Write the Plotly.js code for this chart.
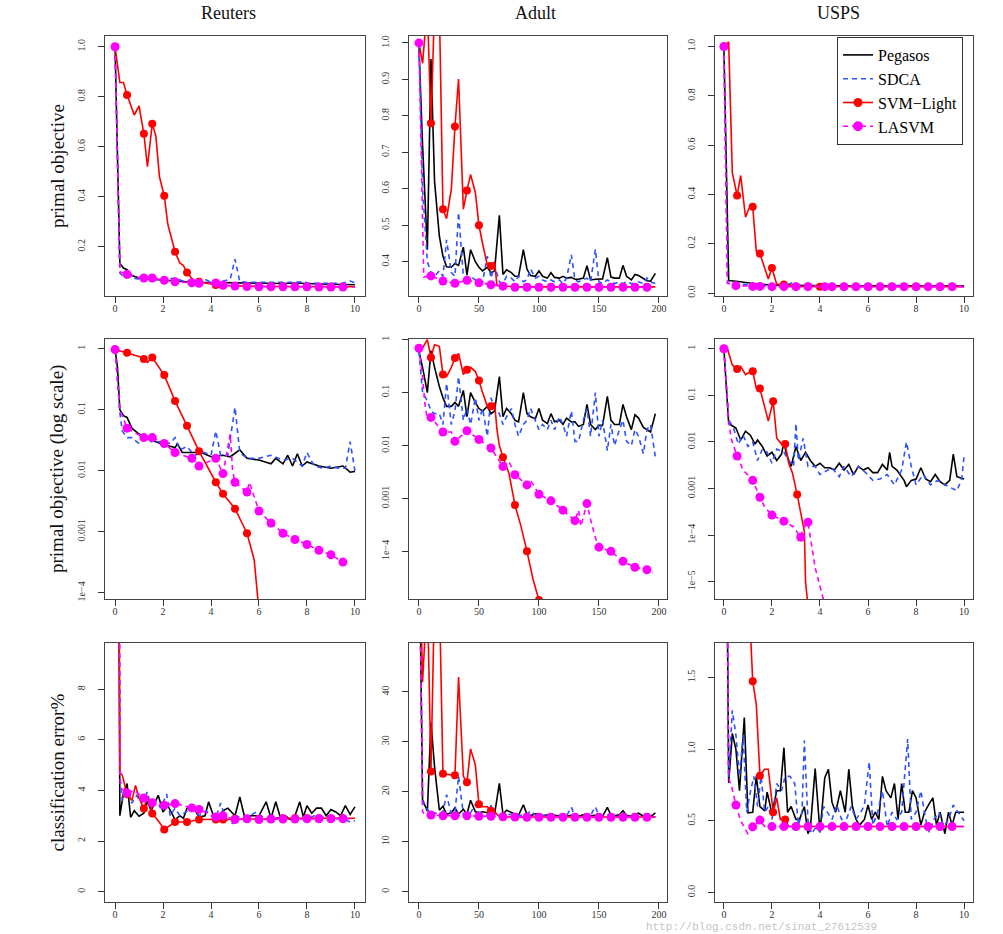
<!DOCTYPE html>
<html><head><meta charset="utf-8">
<script src="https://cdn.plot.ly/plotly-3.0.1.min.js"></script>
<style>html,body{margin:0;padding:0;background:#fff}#chart{width:1003px;height:934px}</style>
</head><body><div id="chart"></div>
<script>
// ---------------- DATA ----------------
const seriesNames = ['Pegasos', 'SDCA', 'SVM\u2212Light', 'LASVM'];
const datasetNames = ['Reuters', 'Adult', 'USPS'];
const rowTitles = ['primal objective', 'primal objective (log scale)', 'classification error%'];

// shared sampling grid for Adult (Pegasos / SDCA)
const adultX = [0,3,7,10,13,17,20,23,27,30, 33,37,40,43,47,50,53,57,60,63, 67,70,73,77,80,83,87,90,93,97, 100,103,107,110,113,117,120,123,127,130, 133,137,140,143,147,150,153,157,160,163, 167,170,173,177,180,183,187,190,193,197];

// ---- Reuters, primal objective ----
const rObjPegX = [0,0.2,0.35,0.5,0.7,1.0,1.5,2.0,2.5,3.0,3.5,4.0,4.5,5.0,5.5,6.0,6.5,7.0,7.5,8.0,8.5,9.0,9.5,10];
const rObjPegY = [1.0,0.133,0.115,0.108,0.085,0.075,0.07,0.066,0.062,0.06,0.058,0.057,0.056,0.055,0.054,0.054,0.053,0.053,0.055,0.052,0.051,0.05,0.049,0.048];
const rObjSdcaX = [0,0.2,0.4,0.6,1.0,1.5,2.0,2.3,2.5,2.8,3.0,3.5,3.8,4.0,4.3,4.8,5.0,5.2,5.5,6.0,6.5,7.0,7.5,7.9,8.0,8.5,9.0,9.5,9.8,10];
const rObjSdcaY = [1.0,0.095,0.075,0.078,0.07,0.07,0.068,0.072,0.075,0.064,0.062,0.06,0.068,0.058,0.058,0.07,0.15,0.06,0.058,0.058,0.057,0.056,0.058,0.06,0.055,0.054,0.055,0.054,0.063,0.056];
const rObjSvmX = [0,0.2,0.35,0.5,0.8,1.0,1.2,1.35,1.55,1.7,1.85,2.05,2.2,2.5,2.7,2.85,3.0,3.3,3.5,4.2,4.5,5.0,5.5,6.0,6.5,7.0,7.5,8.0,8.5,9.0,9.5,10];
const rObjSvmY = [1.0,0.857,0.857,0.807,0.727,0.763,0.652,0.52,0.692,0.643,0.48,0.404,0.29,0.18,0.135,0.125,0.097,0.062,0.06,0.047,0.045,0.043,0.042,0.041,0.041,0.041,0.04,0.04,0.04,0.04,0.04,0.04];
const rObjSvmMk = [0,0.5,1.2,1.55,2.05,2.5,3.0,3.5,4.2,4.5,5.0,5.5,6.0,6.5,7.0,7.5,8.0,8.5,9.0,9.5];
const rObjLasX = [0,0.2,0.5,0.8,1.2,1.55,2.05,2.5,3.2,3.5,4.2,4.5,5.0,5.5,6.0,6.5,7.0,7.5,8.0,8.5,9.0,9.5,10];
const rObjLasY = [1.0,0.1,0.09,0.08,0.075,0.075,0.066,0.06,0.056,0.054,0.055,0.047,0.043,0.041,0.04,0.04,0.04,0.04,0.04,0.039,0.039,0.039,0.039];
const rObjLasMk = [0,0.5,1.2,1.55,2.05,2.5,3.2,3.5,4.2,4.5,5.0,5.5,6.0,6.5,7.0,7.5,8.0,8.5,9.0,9.5];

// ---- Adult, primal objective ----
const aObjPegY = [0.99,0.72,0.433,0.956,0.62,0.47,0.415,0.386,0.385,0.395, 0.39,0.44,0.363,0.433,0.40,0.385,0.375,0.385,0.37,0.375, 0.527,0.365,0.378,0.37,0.36,0.36,0.433,0.38,0.362,0.36, 0.375,0.36,0.355,0.37,0.357,0.355,0.36,0.355,0.357,0.352, 0.352,0.355,0.389,0.35,0.352,0.352,0.353,0.411,0.358,0.355, 0.355,0.39,0.36,0.35,0.365,0.362,0.355,0.348,0.347,0.368];
const aObjSdcaY = [0.99,0.6,0.40,0.37,0.36,0.375,0.36,0.46,0.37,0.36, 0.535,0.36,0.355,0.36,0.35,0.34,0.345,0.415,0.355,0.39, 0.345,0.34,0.36,0.355,0.345,0.36,0.345,0.35,0.38,0.355, 0.36,0.35,0.345,0.35,0.345,0.35,0.34,0.355,0.419,0.35, 0.345,0.35,0.355,0.345,0.434,0.345,0.34,0.35,0.345,0.34, 0.345,0.34,0.345,0.34,0.34,0.345,0.34,0.355,0.345,0.34];
const aObjSvmX = [0,3,7,10,13,17,20,23,27,30,33,37,40,43,47,50,53,57,60,63,65,70,80,90,100,110,120,130,140,150,160,170,180,190,197];
const aObjSvmY = [1.0,0.944,1.1,0.78,1.1,1.1,0.544,0.518,0.6,0.771,0.901,0.544,0.595,0.639,0.59,0.5,0.45,0.39,0.388,0.40,0.335,0.333,0.331,0.331,0.331,0.331,0.331,0.331,0.331,0.331,0.331,0.331,0.331,0.331,0.331];
const aObjSvmMk = [10,20,30,40,50,60,70,80,90,100,110,120,130,140,150,160,170,180,190];
const aObjLasX = [0,4,10,20,30,40,50,60,70,80,90,100,110,120,130,140,150,160,170,180,190,197];
const aObjLasY = [1.0,0.358,0.361,0.347,0.341,0.349,0.342,0.337,0.333,0.330,0.330,0.330,0.330,0.330,0.330,0.330,0.330,0.330,0.330,0.330,0.330,0.330];
const aObjLasMk = [0,10,20,30,40,50,60,70,80,90,100,110,120,130,140,150,160,170,180,190];

// ---- USPS, primal objective ----
const uObjPegX = [0,0.2,0.5,0.8,1.0,1.3,1.6,2.0,2.5,3.0,4.0,5.0,6.0,7.0,8.0,9.0,10];
const uObjPegY = [1.0,0.051,0.048,0.043,0.042,0.038,0.035,0.032,0.031,0.03,0.03,0.029,0.029,0.03,0.029,0.029,0.029];
const uObjSdcaX = [0,0.15,0.4,0.7,1.0,1.5,2.0,2.5,2.9,3.0,3.5,4.0,5.0,6.0,7.0,7.5,8.0,9.0,10];
const uObjSdcaY = [1.0,0.04,0.038,0.035,0.034,0.032,0.03,0.03,0.043,0.032,0.03,0.029,0.029,0.028,0.029,0.033,0.029,0.028,0.029];
const uObjSvmX = [0,0.2,0.35,0.55,0.7,0.9,1.05,1.2,1.35,1.5,1.85,2.0,2.2,2.5,3.0,3.5,4.0,4.5,5.0,5.5,6.0,6.5,7.0,7.5,8.0,8.5,9.0,9.5,10];
const uObjSvmY = [1.0,1.019,0.488,0.396,0.477,0.308,0.345,0.35,0.169,0.16,0.057,0.102,0.035,0.035,0.027,0.027,0.026,0.026,0.026,0.026,0.026,0.026,0.026,0.026,0.026,0.026,0.026,0.026,0.026];
const uObjSvmMk = [0,0.55,1.2,1.5,2.0,2.5,3.0,3.5,4.0,4.5,5.0,5.5,6.0,6.5,7.0,7.5,8.0,8.5,9.0,9.5];
const uObjLasX = [0,0.15,0.5,1.2,1.5,2.0,2.5,3.0,3.5,4.2,4.5,5.0,5.5,6.0,6.5,7.0,7.5,8.0,8.5,9.0,9.5,10];
const uObjLasY = [1.0,0.04,0.03,0.027,0.027,0.026,0.026,0.026,0.026,0.026,0.026,0.026,0.026,0.026,0.026,0.026,0.026,0.026,0.026,0.026,0.026,0.026];
const uObjLasMk = [0,0.5,1.2,1.5,2.0,2.5,3.0,3.5,4.2,4.5,5.0,5.5,6.0,6.5,7.0,7.5,8.0,8.5,9.0,9.5];

// ---- Reuters, primal objective (log) ----
const rLogPegX = [0,0.1,0.2,0.35,0.5,0.7,1.0,1.5,2.0,2.5,2.6,2.8,3.2,3.6,4.0,4.5,4.8,5.2,5.5,6.0,6.5,6.7,7.0,7.2,7.4,7.6,7.8,8.0,8.5,9.0,9.5,9.8,10];
const rLogPegY = [0.97,0.5,0.1,0.08,0.075,0.05,0.04,0.032,0.027,0.024,0.028,0.02,0.02,0.02,0.017,0.018,0.017,0.022,0.016,0.015,0.013,0.016,0.013,0.018,0.012,0.019,0.012,0.014,0.012,0.011,0.012,0.0095,0.0098];
const rLogSdcaX = [0,0.2,0.3,0.5,0.7,1.0,1.3,1.5,2.0,2.3,2.5,2.7,3.0,3.3,3.7,4.0,4.2,4.4,4.7,5.0,5.2,5.5,6.0,6.5,7.0,7.4,7.8,8.0,8.3,8.7,9.0,9.3,9.6,9.8,10];
const rLogSdcaY = [0.97,0.09,0.045,0.035,0.035,0.028,0.036,0.03,0.03,0.028,0.035,0.022,0.025,0.018,0.02,0.018,0.045,0.018,0.018,0.11,0.02,0.016,0.016,0.018,0.015,0.016,0.012,0.02,0.012,0.011,0.012,0.011,0.011,0.03,0.01];
const rLogSvmX = [0,0.5,1.0,1.2,1.35,1.55,2.05,2.5,3.0,3.5,4.2,4.5,5.0,5.5,5.8,6.0];
const rLogSvmY = [0.97,0.86,0.75,0.68,0.6,0.72,0.37,0.14,0.055,0.021,0.0065,0.0042,0.0024,0.00095,0.00035,0.00005];
const rLogSvmMk = [0,0.5,1.2,1.55,2.05,2.5,3.0,3.5,4.2,4.5,5.0,5.5];
const rLogLasX = [0,0.2,0.5,1.2,1.55,2.05,2.5,3.2,3.5,4.2,4.5,4.8,4.9,5.0,5.5,5.6,6.0,6.5,7.0,7.5,8.0,8.5,9.0,9.5,9.8];
const rLogLasY = [0.97,0.1,0.05,0.035,0.035,0.028,0.02,0.016,0.012,0.016,0.009,0.04,0.01,0.0065,0.0045,0.0065,0.0022,0.0014,0.00095,0.00075,0.00062,0.0005,0.00042,0.00032,0.0003];
const rLogLasMk = [0,0.5,1.2,1.55,2.05,2.5,3.2,3.5,4.2,4.5,5.0,5.5,6.0,6.5,7.0,7.5,8.0,8.5,9.0,9.5];

// ---- Adult, primal objective (log) ----
const aLogPegY = [0.6,0.3,0.1,0.62,0.3,0.13,0.08,0.055,0.055,0.065, 0.055,0.11,0.035,0.1,0.065,0.05,0.045,0.055,0.04,0.045, 0.2,0.035,0.05,0.04,0.03,0.028,0.1,0.04,0.035,0.032, 0.05,0.03,0.026,0.04,0.028,0.03,0.025,0.033,0.028,0.028, 0.023,0.025,0.06,0.025,0.02,0.024,0.024,0.085,0.03,0.025, 0.025,0.06,0.035,0.02,0.038,0.033,0.022,0.02,0.018,0.04];
const aLogSdcaY = [0.6,0.1,0.07,0.045,0.04,0.04,0.025,0.15,0.025,0.045, 0.2,0.03,0.05,0.025,0.08,0.03,0.05,0.015,0.08,0.05, 0.04,0.025,0.035,0.05,0.025,0.015,0.025,0.03,0.05,0.03, 0.02,0.025,0.02,0.03,0.02,0.035,0.025,0.015,0.045,0.012, 0.012,0.03,0.05,0.015,0.1,0.015,0.03,0.008,0.025,0.01, 0.02,0.03,0.012,0.01,0.02,0.015,0.007,0.02,0.025,0.006];
const aLogSvmX = [0,3,7,10,13,17,20,23,27,30,33,37,40,43,47,50,53,57,60,63,65,67,70,75,80,85,90,95,100,103];
const aLogSvmY = [0.69,0.7,1.0,0.46,0.8,0.75,0.22,0.2,0.3,0.45,0.55,0.22,0.27,0.3,0.25,0.17,0.1,0.055,0.055,0.065,0.02,0.01,0.006,0.003,0.00075,0.0003,0.0001,0.00003,0.000012,0.000007];
const aLogSvmMk = [10,20,30,40,50,60,70,80,90,100];
const aLogLasX = [0,3,5,7,10,20,27,30,40,50,60,70,75,80,90,93,100,110,120,130,133,135,140,143,147,150,160,170,180,190,195];
const aLogLasY = [0.69,0.2,0.06,0.032,0.034,0.018,0.018,0.012,0.019,0.013,0.009,0.004,0.005,0.0028,0.0018,0.0022,0.0012,0.0009,0.0006,0.00038,0.0006,0.0003,0.0008,0.0004,0.00018,0.00012,0.0001,0.000065,0.00005,0.000045,0.00004];
const aLogLasMk = [0,10,20,30,40,50,60,70,80,90,100,110,120,130,140,150,160,170,180,190];

// ---- USPS, primal objective (log) ----
const uLogPegX = [0,0.2,0.5,0.7,0.9,1.1,1.3,1.4,1.6,1.8,2.0,2.2,2.4,2.5,2.6,2.8,3.0,3.2,3.4,3.6,3.8,4.0,4.2,4.4,4.6,4.8,5.0,5.2,5.4,5.6,5.8,6.0,6.2,6.4,6.6,6.8,6.9,7.0,7.2,7.5,7.6,7.8,8.0,8.2,8.4,8.6,8.8,9.0,9.2,9.4,9.55,9.7,10];
const uLogPegY = [1.0,0.025,0.02,0.011,0.017,0.014,0.009,0.011,0.008,0.005,0.006,0.004,0.0055,0.01,0.0055,0.003,0.008,0.004,0.006,0.004,0.003,0.0035,0.0028,0.0028,0.0025,0.0035,0.0025,0.0033,0.002,0.003,0.0025,0.0028,0.0022,0.0022,0.0033,0.0025,0.006,0.003,0.0025,0.0015,0.0011,0.0015,0.0016,0.0028,0.0016,0.0014,0.002,0.0014,0.0012,0.0015,0.0055,0.0018,0.0016];
const uLogSdcaX = [0,0.2,0.4,0.6,0.8,1.0,1.2,1.4,1.6,1.8,2.0,2.2,2.5,2.7,2.9,3.0,3.1,3.3,3.5,3.8,4.0,4.3,4.5,4.8,5.0,5.3,5.6,5.9,6.2,6.5,6.8,7.1,7.4,7.6,7.8,8.0,8.3,8.6,8.9,9.2,9.5,9.7,9.9,10];
const uLogSdcaY = [1.0,0.03,0.02,0.009,0.014,0.008,0.01,0.004,0.007,0.006,0.0035,0.007,0.006,0.004,0.003,0.025,0.004,0.012,0.003,0.003,0.002,0.0025,0.0028,0.0018,0.003,0.0018,0.003,0.0022,0.0015,0.0016,0.002,0.0012,0.0025,0.01,0.003,0.0012,0.002,0.0012,0.0015,0.0012,0.001,0.0009,0.0016,0.005];
const uLogSvmX = [0,0.15,0.35,0.55,0.7,0.9,1.05,1.2,1.35,1.5,1.85,2.05,2.2,2.4,2.55,2.7,2.85,3.05,3.35,3.4,3.5];
const uLogSvmY = [1.0,1.0,0.45,0.37,0.42,0.28,0.31,0.33,0.14,0.14,0.028,0.075,0.012,0.009,0.009,0.0035,0.0022,0.00075,0.00012,0.00001,0.000003];
const uLogSvmMk = [0,0.55,1.2,1.5,2.05,2.55,3.05];
const uLogLasX = [0,0.1,0.2,0.3,0.55,0.8,1.2,1.5,1.7,2.0,2.5,2.9,3.2,3.3,3.5,3.8,4.15];
const uLogLasY = [1.0,0.2,0.03,0.012,0.005,0.0025,0.0015,0.00065,0.0004,0.00027,0.0002,0.00015,0.00009,0.00014,0.00019,0.00002,0.000004];
const uLogLasMk = [0,0.55,1.2,1.5,2.0,2.5,3.2,3.5];

// ---- Reuters, classification error % ----
const rErrPegX = [0,0.2,0.35,0.5,0.65,0.8,1.0,1.2,1.35,1.5,1.65,1.8,2.0,2.2,2.5,2.7,2.85,3.0,3.2,3.5,3.75,3.9,4.1,4.3,4.5,4.7,5.0,5.2,5.4,5.7,6.0,6.3,6.5,6.7,6.9,7.1,7.3,7.5,7.7,7.85,8.0,8.2,8.4,8.6,8.8,9.0,9.2,9.4,9.6,9.8,10];
const rErrPegY = [50,3.0,3.9,4.27,2.94,3.2,2.98,3.1,3.57,3.2,3.5,3.81,3.15,3.4,2.85,3.0,2.9,3.3,3.44,2.95,3.0,3.55,3.0,2.95,3.2,3.3,3.0,3.74,2.95,3.0,3.0,3.55,2.9,3.55,2.9,3.0,2.85,3.0,3.55,2.95,3.4,3.1,3.3,3.3,3.0,3.25,3.15,3.0,3.4,3.05,3.35];
const rErrSdcaX = [0,0.2,0.3,0.5,0.7,0.9,1.1,1.35,1.5,1.7,1.9,2.15,2.3,2.5,2.7,3.0,3.2,3.5,3.8,4.0,4.2,4.4,4.6,4.9,5.0,5.3,5.6,5.9,6.2,6.6,7.0,7.3,7.7,8.0,8.3,8.6,9.0,9.3,9.6,9.8,10];
const rErrSdcaY = [50,4.6,3.6,4.0,3.5,3.8,3.5,3.94,3.3,3.6,3.3,3.86,3.0,3.3,3.0,3.2,3.3,3.0,3.2,3.0,2.9,3.5,2.9,2.7,3.0,2.9,3.0,3.15,2.9,2.9,2.95,2.85,2.9,2.85,3.0,2.95,2.95,2.9,2.85,2.75,2.8];
const rErrSvmX = [0,0.2,0.3,0.4,0.5,0.7,0.85,1.0,1.2,1.35,1.55,1.8,2.05,2.5,3.0,3.5,4.2,4.5,5.0,5.5,6.0,6.5,7.0,7.5,8.0,8.5,9.0,9.5,10];
const rErrSvmY = [50,4.72,4.6,4.2,3.85,3.6,4.2,3.7,3.29,3.75,3.09,2.8,2.46,2.75,2.75,2.85,2.85,2.85,2.88,2.88,2.88,2.88,2.9,2.9,2.9,2.9,2.9,2.9,2.9];
const rErrSvmMk = [0.5,1.2,1.55,2.05,2.5,3.0,3.5,4.2,4.5,5.0,5.5,6.0,6.5,7.0,7.5,8.0,8.5,9.0,9.5];
const rErrLasX = [0,0.22,0.5,0.8,1.2,1.55,2.05,2.5,3.2,3.5,4.2,4.5,5.0,5.5,6.0,6.5,7.0,7.5,8.0,8.5,9.0,9.5,9.8];
const rErrLasY = [50,4.1,3.9,4.0,3.7,3.51,3.42,3.48,3.31,3.25,2.95,3.0,2.85,2.88,2.85,2.87,2.87,2.87,2.88,2.88,2.88,2.88,2.88];
const rErrLasMk = [0.5,1.2,1.55,2.05,2.5,3.2,3.5,4.2,4.5,5.0,5.5,6.0,6.5,7.0,7.5,8.0,8.5,9.0,9.5];

// ---- Adult, classification error % ----
const aErrPegY = [76,18.4,16.1,33.9,25,16.3,17.1,15.5,15.8,16.8, 15.5,16.5,15.5,18.3,16,15.8,16,15.8,16,15.5, 21.7,15.5,16.3,15.8,15.5,15.3,17.4,15.5,15.2,15.6, 15.6,15.2,15.3,15.5,15.3,15.2,15.5,15.1,15.3,15.2, 15.1,15.4,15.6,15.2,15.3,15.2,15.1,16.9,15.3,15.2, 15.4,16.2,15.3,15.1,15.4,15.7,15.1,15.3,15.0,15.8];
const aErrSdcaY = [76,18,16.5,15.5,15.8,15.5,16,19.4,15.5,16, 23.1,15.5,15.3,15.8,17.5,15.8,15.5,15.3,17.3,15.5, 15.5,15.2,15.4,15.5,15.3,15.2,15.4,15.5,16.2,15.3, 15.2,15.2,15.3,15.4,15.2,15.1,15.3,15.2,16.9,15.1, 15.0,15.2,15.2,15.3,17.0,15.1,15.1,15.0,15.2,15.1, 15.0,15.2,15.1,15.0,15.1,15.1,15.0,15.1,15.1,15.0];
const aErrSvmX = [0,3,7,10,13,17,20,30,33,37,40,43,47,50,53,57,60,63,67,70,80,90,100,110,120,130,140,150,160,170,180,190,197];
const aErrSvmY = [76,42,60,24.05,60,60,23.6,23.3,43,23.1,21.9,28.6,25.4,17.5,17,17,16.2,16,15,14.95,14.95,14.95,14.95,14.95,14.95,14.95,14.95,14.95,14.95,14.95,14.95,14.95,14.95];
const aErrSvmMk = [10,20,30,40,50,60,70,80,90,100,110,120,130,140,150,160,170,180,190];
const aErrLasX = [0,3,5,10,20,30,40,50,60,70,80,90,100,110,120,130,140,150,160,170,180,190,197];
const aErrLasY = [76,16,15.5,15.35,15.2,15.2,15.2,15.1,15.1,15.0,14.95,14.9,14.9,14.9,14.9,14.9,14.9,14.9,14.9,14.9,14.9,14.9,14.9];
const aErrLasMk = [10,20,30,40,50,60,70,80,90,100,110,120,130,140,150,160,170,180,190];

// ---- USPS, classification error % ----
const uErrPegX = [0,0.2,0.35,0.5,0.65,0.85,1.0,1.2,1.35,1.5,1.7,1.8,2.0,2.2,2.35,2.5,2.65,2.8,3.0,3.15,3.35,3.5,3.6,3.8,4.0,4.2,4.35,4.5,4.65,4.85,5.05,5.2,5.35,5.5,5.65,5.85,6.0,6.15,6.3,6.45,6.6,6.75,6.95,7.1,7.25,7.4,7.55,7.7,7.85,8.0,8.2,8.35,8.55,8.7,8.85,9.0,9.2,9.35,9.5,9.65,10];
const uErrPegY = [5,0.765,1.11,1.0,0.71,1.22,0.556,0.56,0.81,0.6,0.57,0.7,0.55,0.71,0.71,1.01,0.56,0.6,0.51,0.51,0.6,0.41,0.45,0.865,0.42,0.8,0.86,0.63,0.56,0.71,0.56,0.86,0.6,0.51,0.47,0.51,0.61,0.51,0.56,0.51,0.81,0.71,0.66,0.76,0.51,0.76,0.56,0.56,0.71,0.66,0.47,0.56,0.62,0.66,0.47,0.56,0.41,0.56,0.47,0.56,0.56];
const uErrSdcaX = [0,0.2,0.35,0.5,0.65,0.8,0.95,1.1,1.25,1.4,1.55,1.7,1.85,2.0,2.2,2.4,2.55,2.75,2.95,3.1,3.25,3.35,3.5,3.65,3.85,4.0,4.15,4.3,4.5,4.7,4.9,5.1,5.3,5.5,5.7,5.85,6.05,6.2,6.4,6.6,6.8,7.0,7.2,7.4,7.65,7.8,8.0,8.2,8.4,8.55,8.75,8.95,9.15,9.35,9.55,9.75,10];
const uErrSdcaY = [5,0.8,1.27,1.1,0.81,1.1,0.56,0.7,0.81,0.6,0.81,0.56,0.6,0.51,0.76,0.71,0.81,0.81,0.76,0.47,0.56,1.06,0.5,0.41,0.46,0.42,0.6,0.56,0.51,0.61,0.51,0.51,0.6,0.51,0.56,0.61,0.91,0.47,0.56,0.71,0.46,0.56,0.51,0.56,1.07,0.51,0.56,0.71,0.51,0.42,0.51,0.56,0.46,0.51,0.61,0.56,0.5];
const uErrSvmX = [0,1.0,1.2,1.35,1.5,1.7,1.85,2.05,2.2,2.35,2.55,2.7,3.0,3.5,4.0,4.5,5.0,5.5,6.0,6.5,7.0,7.5,8.0,8.5,9.0,9.5,10];
const uErrSvmY = [5,2.2,1.474,1.31,0.814,0.86,0.86,0.56,0.66,0.51,0.51,0.46,0.46,0.46,0.46,0.46,0.46,0.46,0.46,0.46,0.46,0.46,0.46,0.46,0.46,0.46,0.46];
const uErrSvmMk = [1.2,1.5,2.05,2.55,3.0,3.5,4.0,4.5,5.0,5.5,6.0,6.5,7.0,7.5,8.0,8.5,9.0,9.5];
const uErrLasX = [0,0.2,0.35,0.5,0.7,0.85,1.0,1.2,1.5,1.7,2.0,2.5,3.0,3.5,4.0,4.5,5.0,5.5,6.0,6.5,7.0,7.5,8.0,8.5,9.0,9.5,10];
const uErrLasY = [5,0.8,0.72,0.61,0.5,0.45,0.41,0.458,0.505,0.46,0.46,0.46,0.46,0.46,0.46,0.46,0.46,0.46,0.46,0.46,0.46,0.46,0.46,0.46,0.46,0.46,0.46];
const uErrLasMk = [0.5,1.2,1.5,2.0,2.5,3.0,3.5,4.0,4.5,5.0,5.5,6.0,6.5,7.0,7.5,8.0,8.5,9.0,9.5];

// ---- tick labels ----
const xTicks10 = [0,2,4,6,8,10];
const xTicks200 = [0,50,100,150,200];
const yTicksRObj = [0.2,0.4,0.6,0.8,1.0];
const yTextRObj = ['0.2','0.4','0.6','0.8','1.0'];
const yTicksAObj = [0.4,0.5,0.6,0.7,0.8,0.9,1.0];
const yTextAObj = ['0.4','0.5','0.6','0.7','0.8','0.9','1.0'];
const yTicksUObj = [0,0.2,0.4,0.6,0.8,1.0];
const yTextUObj = ['0.0','0.2','0.4','0.6','0.8','1.0'];
const yTicksLog = [1,0.1,0.01,0.001,0.0001,0.00001];
const yTextLog = ['1','0.1','0.01','0.001','1e\u22124','1e\u22125'];
const yTicksRErr = [0,2,4,6,8];
const yTicksAErr = [0,10,20,30,40];
const yTicksUErr = [0,0.5,1.0,1.5];
const yTextUErr = ['0.0','0.5','1.0','1.5'];
const watermark = 'http://blog.csdn.net/sinat_27612539';

// ---------------- BUILD ----------------
const W = 1003, H = 934;
const colPx = [[105,365],[409,667],[715,973]];
const rowPx = [[36,296],[339,599],[643,902]];
const serif = 'Liberation Serif, Times New Roman, serif';
const colors = ['#000000', '#2f52ff', '#ff0000', '#ff00ff'];

function pick(xs, ys, mk) {
  const ox = [], oy = [];
  xs.forEach((x, i) => { if (mk.some(m => Math.abs(m - x) < 1e-9)) { ox.push(x); oy.push(ys[i]); } });
  return [ox, oy];
}

const panels = [
  {r:0,c:0, xr:[-0.42,10.42], yr:[0.003,1.043], log:false, xt:xTicks10, yt:yTicksRObj, ytt:yTextRObj,
   s:[[rObjPegX,rObjPegY],[rObjSdcaX,rObjSdcaY],[rObjSvmX,rObjSvmY,rObjSvmMk],[rObjLasX,rObjLasY,rObjLasMk]]},
  {r:0,c:1, xr:[-8.3,206.7], yr:[0.306,1.019], log:false, xt:xTicks200, yt:yTicksAObj, ytt:yTextAObj,
   s:[[adultX,aObjPegY],[adultX,aObjSdcaY],[aObjSvmX,aObjSvmY,aObjSvmMk],[aObjLasX,aObjLasY,aObjLasMk]]},
  {r:0,c:2, xr:[-0.37,10.37], yr:[-0.012,1.043], log:false, xt:xTicks10, yt:yTicksUObj, ytt:yTextUObj,
   s:[[uObjPegX,uObjPegY],[uObjSdcaX,uObjSdcaY],[uObjSvmX,uObjSvmY,uObjSvmMk],[uObjLasX,uObjLasY,uObjLasMk]]},
  {r:1,c:0, xr:[-0.42,10.42], yr:[-4.1,0.16], log:true, xt:xTicks10, yt:yTicksLog.slice(0,5), ytt:yTextLog.slice(0,5),
   s:[[rLogPegX,rLogPegY],[rLogSdcaX,rLogSdcaY],[rLogSvmX,rLogSvmY,rLogSvmMk],[rLogLasX,rLogLasY,rLogLasMk]]},
  {r:1,c:1, xr:[-8.3,206.7], yr:[-4.9,0.013], log:true, xt:xTicks200, yt:yTicksLog.slice(0,5), ytt:yTextLog.slice(0,5),
   s:[[adultX,aLogPegY],[adultX,aLogSdcaY],[aLogSvmX,aLogSvmY,aLogSvmMk],[aLogLasX,aLogLasY,aLogLasMk]]},
  {r:1,c:2, xr:[-0.37,10.37], yr:[-5.37,0.21], log:true, xt:xTicks10, yt:yTicksLog, ytt:yTextLog,
   s:[[uLogPegX,uLogPegY],[uLogSdcaX,uLogSdcaY],[uLogSvmX,uLogSvmY,uLogSvmMk],[uLogLasX,uLogLasY,uLogLasMk]]},
  {r:2,c:0, xr:[-0.42,10.42], yr:[-0.41,9.83], log:false, xt:xTicks10, yt:yTicksRErr, ytt:yTicksRErr.map(String),
   s:[[rErrPegX,rErrPegY],[rErrSdcaX,rErrSdcaY],[rErrSvmX,rErrSvmY,rErrSvmMk],[rErrLasX,rErrLasY,rErrLasMk]]},
  {r:2,c:1, xr:[-8.3,206.7], yr:[-2.07,49.8], log:false, xt:xTicks200, yt:yTicksAErr, ytt:yTicksAErr.map(String),
   s:[[adultX,aErrPegY],[adultX,aErrSdcaY],[aErrSvmX,aErrSvmY,aErrSvmMk],[aErrLasX,aErrLasY,aErrLasMk]]},
  {r:2,c:2, xr:[-0.37,10.37], yr:[-0.066,1.74], log:false, xt:xTicks10, yt:yTicksUErr, ytt:yTextUErr,
   s:[[uErrPegX,uErrPegY],[uErrSdcaX,uErrSdcaY],[uErrSvmX,uErrSvmY,uErrSvmMk],[uErrLasX,uErrLasY,uErrLasMk]]}
];

const traces = [];
const layout = {
  width: W, height: H, margin: {l:0, r:0, t:0, b:0},
  paper_bgcolor: '#fff', plot_bgcolor: '#fff',
  font: {family: serif, color: '#111'},
  showlegend: true,
  legend: {x: 837/W, y: 1 - 37/H, xanchor: 'left', yanchor: 'top',
           bgcolor: '#fff', bordercolor: '#333', borderwidth: 1,
           font: {family: serif, size: 16, color: '#000'}, itemwidth: 30, tracegroupgap: 0},
  annotations: [], hovermode: false
};

const lineStyle = [
  {color: colors[0], width: 1.6},
  {color: colors[1], width: 1.6, dash: '5px,4px'},
  {color: colors[2], width: 1.6},
  {color: colors[3], width: 1.6, dash: '5px,4px'}
];
const markerSize = [0, 0, 8, 9];

panels.forEach((p, k) => {
  const n = k + 1;
  const xa = 'x' + (n === 1 ? '' : n), ya = 'y' + (n === 1 ? '' : n);
  const xk = 'xaxis' + (n === 1 ? '' : n), yk = 'yaxis' + (n === 1 ? '' : n);
  const cp = colPx[p.c], rp = rowPx[p.r];
  const common = {showgrid: false, zeroline: false, showline: true, mirror: true, linecolor: '#444', linewidth: 1,
                  ticks: 'outside', ticklen: 6, tickcolor: '#333', tickwidth: 1,
                  tickfont: {family: serif, size: 10, color: '#333'}, fixedrange: true};
  layout[xk] = Object.assign({}, common, {domain: [cp[0]/W, cp[1]/W], range: p.xr, anchor: ya,
                  tickmode: 'array', tickvals: p.xt, ticktext: p.xt.map(String), ticklabelstandoff: -3});
  layout[yk] = Object.assign({}, common, {domain: [1 - rp[1]/H, 1 - rp[0]/H], range: p.yr, anchor: xa,
                  type: p.log ? 'log' : 'linear', tickmode: 'array', tickvals: p.yt, ticktext: p.ytt,
                  tickangle: -90, ticklabelstandoff: 9});
  p.s.forEach((sr, si) => {
    traces.push({type: 'scatter', mode: 'lines', x: sr[0], y: sr[1], xaxis: xa, yaxis: ya,
                 line: lineStyle[si], showlegend: false, hoverinfo: 'skip'});
    if (sr[2]) {
      const [mx, my] = pick(sr[0], sr[1], sr[2]);
      traces.push({type: 'scatter', mode: 'markers', x: mx, y: my, xaxis: xa, yaxis: ya,
                   marker: {color: colors[si], size: markerSize[si], line: {width: 0}},
                   cliponaxis: true, showlegend: false, hoverinfo: 'skip'});
    }
  });
});

// legend-only entries (drawn in the USPS top panel)
seriesNames.forEach((nm, si) => {
  traces.push({type: 'scatter', mode: si >= 2 ? 'lines+markers' : 'lines', x: [null], y: [null],
               xaxis: 'x3', yaxis: 'y3', name: nm, line: lineStyle[si],
               marker: {color: colors[si], size: markerSize[si] + 1}, showlegend: true});
});

// column titles
const colTitleX = [228, 535, 838];
datasetNames.forEach((t, i) => layout.annotations.push({text: t, x: colTitleX[i]/W, y: 1 - 13/H, xref: 'paper', yref: 'paper',
  xanchor: 'center', yanchor: 'middle', showarrow: false, font: {family: serif, size: 18, color: '#111'}}));
// row titles
rowTitles.forEach((t, i) => layout.annotations.push({text: t, x: 57/W, y: 1 - ((rowPx[i][0] + rowPx[i][1]) / 2)/H,
  xref: 'paper', yref: 'paper', xanchor: 'center', yanchor: 'middle', textangle: -90, showarrow: false,
  font: {family: serif, size: 19, color: '#111'}}));
// watermark (kept just below the tick labels)
layout.annotations.push({text: watermark, x: 645/W, y: 0, xref: 'paper', yref: 'paper', xanchor: 'left',
  yanchor: 'bottom', showarrow: false, borderpad: 0,
  font: {family: 'Liberation Mono, DejaVu Sans Mono, monospace', size: 11, color: 'rgba(150,150,150,0.6)'}});

Plotly.newPlot('chart', traces, layout, {displayModeBar: false, staticPlot: true});
</script>
</body></html>
